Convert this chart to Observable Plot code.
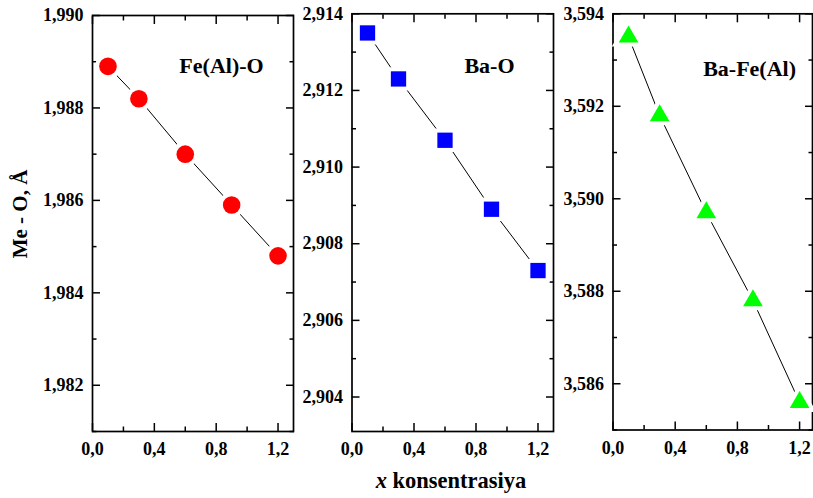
<!DOCTYPE html>
<html>
<head>
<meta charset="utf-8">
<script src="https://cdn.jsdelivr.net/npm/d3@7"></script>
<script src="https://cdn.jsdelivr.net/npm/@observablehq/plot@0.6"></script>
<style>
  html, body { margin: 0; padding: 0; background: #fff; }
  #wrap { position: relative; width: 813px; height: 498px; overflow: hidden; background: #fff; }
  #wrap svg { position: absolute; left: 0; top: 0; }
  #wrap svg text { font-family: "Liberation Serif", "Times New Roman", Tinos, "DejaVu Serif", serif; }
</style>
</head>
<body>
<div id="wrap"></div>
<script>
// ---- data ----
const xConc = [0.1, 0.3, 0.6, 0.9, 1.2];
const feAlO = [1.9889, 1.9882, 1.9870, 1.9859, 1.9848];
const baO = [2.9135, 2.9123, 2.9107, 2.9089, 2.9073];
const baFeAl = [3.5935, 3.5918, 3.5897, 3.5878, 3.5856];

const panelNames = ["Fe(Al)-O", "Ba-O", "Ba-Fe(Al)"];
const xTicksMajor = [0, 0.4, 0.8, 1.2];
const xTicksMinor = [0.2, 0.6, 1.0];
const yTicksMajor1 = [1.982, 1.984, 1.986, 1.988, 1.990];
const yTicksMinor1 = [1.981, 1.983, 1.985, 1.987, 1.989];
const yTicksMajor2 = [2.904, 2.906, 2.908, 2.910, 2.912, 2.914];
const yTicksMinor2 = [2.905, 2.907, 2.909, 2.911, 2.913];
const yTicksMajor3 = [3.586, 3.588, 3.590, 3.592, 3.594];
const yTicksMinor3 = [3.585, 3.587, 3.589, 3.591, 3.593];
const yTitle = "Me - O, Å";
const xTitleVar = "x";
const xTitleRest = " konsentrasiya";

// ---- build ----
const W = 813, H = 498;
const comma = (f) => (d) => d3.format(f)(d).replace(".", ",");
const fmtX = comma(".1f");
const fmtY = comma(".3f");
const FONT = "Liberation Serif, Times New Roman, Tinos, DejaVu Serif, serif";

const panels = [
  {vals: feAlO, name: panelNames[0], yDomain: [1.981, 1.990], yMaj: yTicksMajor1, yMin: yTicksMinor1,
   xDomain: [0, 1.3], left: 92, right: 293, top: 15, bottom: 431,
   symbol: "circle", r: 8.8, color: "#ff0000", labDx: 28.5, labDy: 50},
  {vals: baO, name: panelNames[1], yDomain: [2.9031, 2.914], yMaj: yTicksMajor2, yMin: yTicksMinor2,
   xDomain: [0, 1.3], left: 351.5, right: 553, top: 13.3, bottom: 431,
   symbol: "square", r: 8.63, color: "#0000ff", labDx: 36.7, labDy: 51.7},
  {vals: baFeAl, name: panelNames[2], yDomain: [3.585, 3.594], yMaj: yTicksMajor3, yMin: yTicksMinor3,
   xDomain: [0, 1.283], left: 612.5, right: 812, top: 13.3, bottom: 429.5,
   symbol: "triangle", r: 7.3, color: "#00ff00", labDx: 36.8, labDy: 55}
];

const wrap = document.getElementById("wrap");

for (const p of panels) {
  const data = xConc.map((x, i) => ({x, y: p.vals[i]}));
  const blank = () => "";
  const svg = Plot.plot({
    width: W, height: H,
    marginLeft: p.left, marginRight: W - p.right,
    marginTop: p.top, marginBottom: H - p.bottom,
    style: {background: "transparent", overflow: "visible", fontFamily: FONT, fontSize: "18px", fontWeight: "bold", color: "#000"},
    x: {domain: p.xDomain, label: null},
    y: {domain: p.yDomain, label: null},
    marks: [
      // labels
      Plot.axisX(xTicksMajor, {anchor: "bottom", tickSize: 0, tickPadding: 11, tickFormat: fmtX, label: null, fontFamily: FONT}),
      Plot.axisY(p.yMaj, {anchor: "left", tickSize: 0, tickPadding: 9, tickFormat: fmtY, label: null, fontFamily: FONT}),
      // inward major ticks on all sides
      Plot.axisX(xTicksMajor, {anchor: "bottom", tickSize: -8, tickFormat: blank, label: null, strokeWidth: 1.5}),
      Plot.axisX(xTicksMajor, {anchor: "top", tickSize: -8, tickFormat: blank, label: null, strokeWidth: 1.5}),
      Plot.axisY(p.yMaj, {anchor: "left", tickSize: -8, tickFormat: blank, label: null, strokeWidth: 1.5}),
      Plot.axisY(p.yMaj, {anchor: "right", tickSize: -8, tickFormat: blank, label: null, strokeWidth: 1.5}),
      // inward minor ticks
      Plot.axisX(xTicksMinor, {anchor: "bottom", tickSize: -4.5, tickFormat: blank, label: null, strokeWidth: 1.5}),
      Plot.axisX(xTicksMinor, {anchor: "top", tickSize: -4.5, tickFormat: blank, label: null, strokeWidth: 1.5}),
      Plot.axisY(p.yMin, {anchor: "left", tickSize: -4.5, tickFormat: blank, label: null, strokeWidth: 1.5}),
      Plot.axisY(p.yMin, {anchor: "right", tickSize: -4.5, tickFormat: blank, label: null, strokeWidth: 1.5}),
      Plot.frame({stroke: "#000", strokeWidth: 1.7}),
      Plot.line(data, {x: "x", y: "y", stroke: "#000", strokeWidth: 1}),
      Plot.dot(data, {x: "x", y: "y", symbol: p.symbol, r: p.r, fill: p.color, stroke: "white",
                      strokeWidth: 8, paintOrder: "stroke"}),
      Plot.text([p.name], {frameAnchor: "top", dx: p.labDx, dy: p.labDy, lineAnchor: "middle",
                           text: (d) => d, fontSize: 22, fontWeight: "bold", fill: "#000", fontFamily: FONT})
    ]
  });
  wrap.appendChild(svg);
}

// axis titles overlay
const ns = "http://www.w3.org/2000/svg";
const ov = document.createElementNS(ns, "svg");
ov.setAttribute("width", W); ov.setAttribute("height", H);
ov.style.pointerEvents = "none";
function addText(parent, attrs) {
  const t = document.createElementNS(ns, "text");
  for (const k in attrs) t.setAttribute(k, attrs[k]);
  parent.appendChild(t);
  return t;
}
const yt = addText(ov, {transform: "translate(27,214) rotate(-90)", "text-anchor": "middle",
  "font-family": FONT, "font-size": 21, "font-weight": "bold", fill: "#000"});
yt.textContent = yTitle;
const xt = addText(ov, {x: 451, y: 488, "text-anchor": "middle",
  "font-family": FONT, "font-size": 22.5, "font-weight": "bold", fill: "#000"});
const ts1 = document.createElementNS(ns, "tspan");
ts1.setAttribute("font-style", "italic");
ts1.textContent = xTitleVar;
const ts2 = document.createElementNS(ns, "tspan");
ts2.textContent = "\u00a0" + xTitleRest.trim();
xt.appendChild(ts1); xt.appendChild(ts2);
wrap.appendChild(ov);
</script>
</body>
</html>
